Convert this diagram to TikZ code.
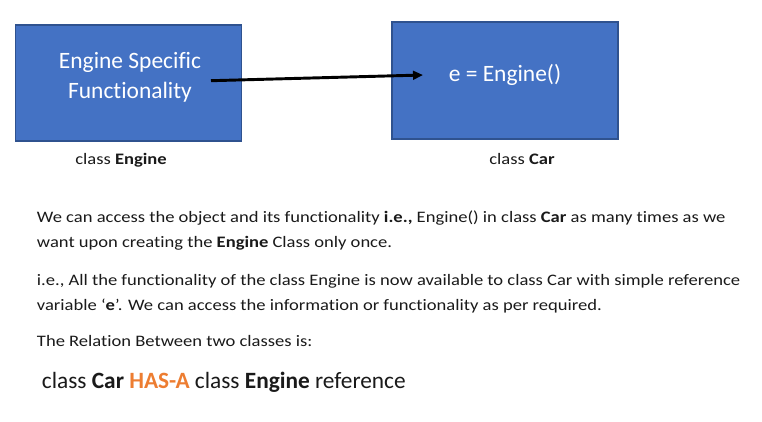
\documentclass[tikz,border=0pt]{standalone}
\usepackage{fontspec}
\setmainfont[Ligatures=NoCommon]{Carlito}
\newfontfamily\widefont[FakeStretch=1.16,Ligatures=NoCommon]{Carlito}
\usetikzlibrary{arrows.meta}
\definecolor{boxfill}{HTML}{4472C4}
\definecolor{boxline}{HTML}{2F528F}
\definecolor{hasa}{HTML}{ED7D31}
\definecolor{txt}{HTML}{1A1A1A}
\tikzset{
  classbox/.style={draw=boxline, line width=1.2pt, fill=boxfill, minimum width=169.5pt, minimum height=87pt, inner sep=0pt},
  boxtext/.style={text=white, font=\fontsize{17.6}{21}\selectfont, inner sep=0pt, anchor=base},
  caption/.style={text=txt, font=\widefont\fontsize{12}{14}\selectfont, inner sep=0pt, anchor=base},
  bodyline/.style={text=txt, font=\widefont\fontsize{12}{14}\selectfont, inner sep=0pt, anchor=base west},
  bigline/.style={text=txt, font=\fontsize{17.5}{20}\selectfont, inner sep=0pt, anchor=base west},
  usearrow/.style={line width=2.2pt, -{Triangle[length=7.5pt,width=6.5pt]}}
}
\begin{document}
\begin{tikzpicture}[x=0.75pt,y=-0.75pt]
\useasboundingbox (0,0) rectangle (762,421);
\fill[white] (0,0) rectangle (762,421);
% boxes
\node[classbox] (engine) at (128.3,83) {};
\node[classbox, minimum height=87.75pt] (car) at (505,80.5) {};
\node[boxtext] (es1) at (130,68.3) {Engine Specific};
\node[boxtext] (es2) at (130,98.3) {Functionality};
\node[boxtext] (einst) at (505,81.7) {e = Engine()};
% arrow
\coordinate (a1) at (211,80.7);
\coordinate (a2) at (423,75);
\draw[usearrow] (a1) -- (a2);
% captions
\node[caption] (cap1) at (121,164.3) {class \textbf{Engine}};
\node[caption] (cap2) at (522,164.3) {class \textbf{Car}};
% paragraph
\node[bodyline] (p1) at (36.7,222.7) {We can access the object and its functionality \textbf{i.e.,} Engine() in class \textbf{Car} as many times as we};
\node[bodyline] (p2) at (36.7,247.7) {want upon creating the \textbf{Engine} Class only once.};
\node[bodyline] (p3) at (36.7,285) {i.e., All the functionality of the class Engine is now available to class Car with simple reference};
\node[bodyline] (p4) at (36.7,310) {variable ‘\textbf{e}’. We can access the information or functionality as per required.};
\node[bodyline] (p5) at (36.7,346.7) {The Relation Between two classes is:};
\node[bigline] (p6) at (41.7,388.3) {class \textbf{Car} \textcolor{hasa}{\textbf{HAS-A}} class \textbf{Engine} reference};
\end{tikzpicture}
\end{document}
